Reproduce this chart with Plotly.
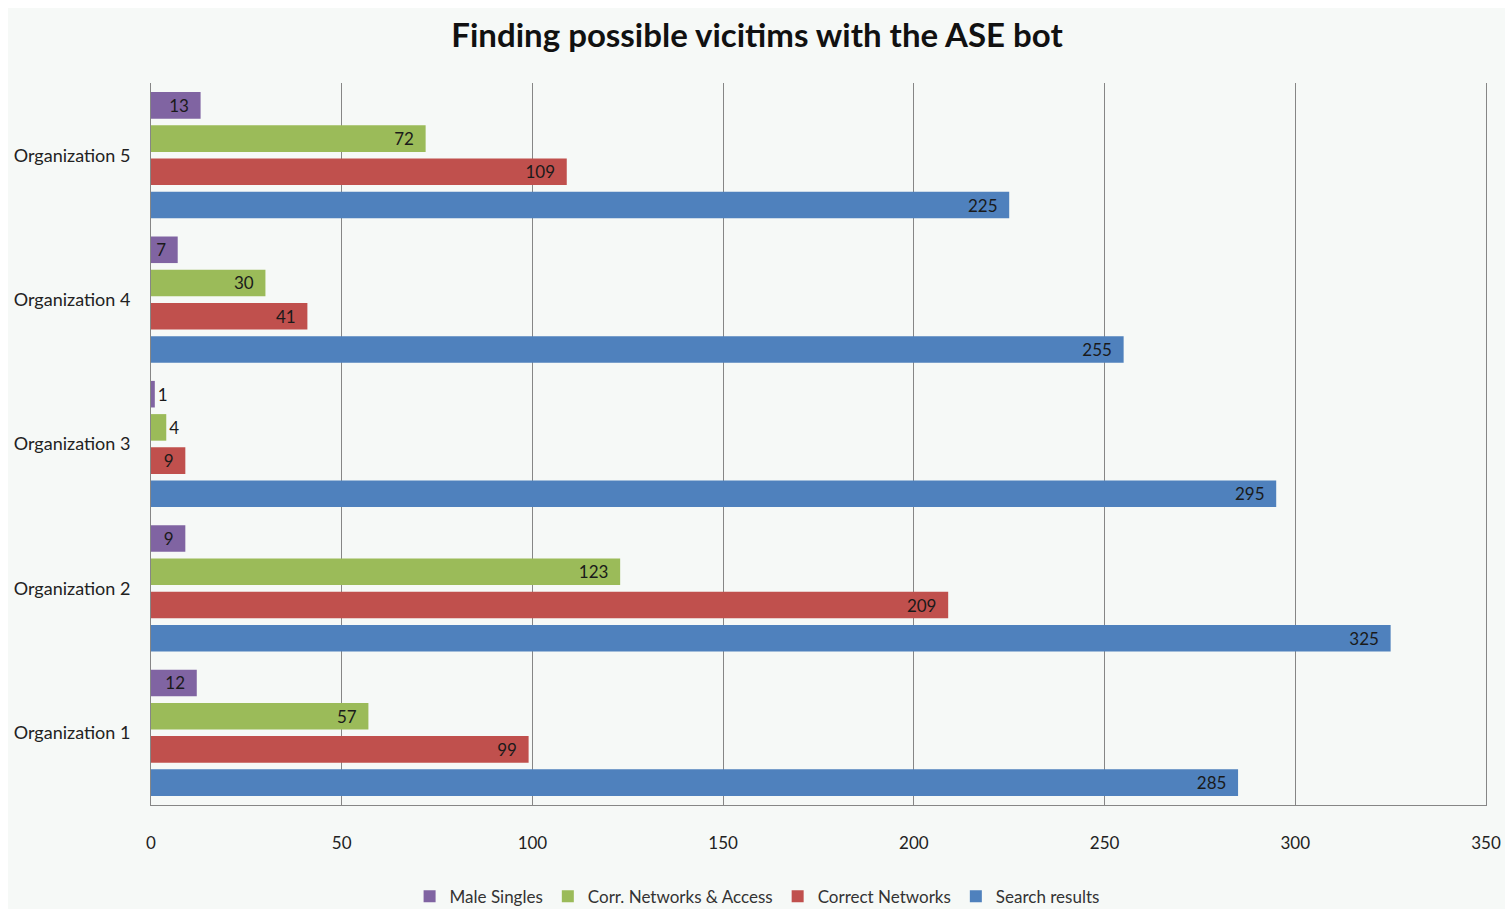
import plotly.graph_objects as go

categories = ["Organization 1", "Organization 2", "Organization 3", "Organization 4", "Organization 5"]
search_results = [285, 325, 295, 255, 225]
correct_networks = [99, 209, 9, 41, 109]
corr_networks_access = [57, 123, 4, 30, 72]
male_singles = [12, 9, 1, 7, 13]
x_ticks = [0, 50, 100, 150, 200, 250, 300, 350]

series = [
    ("Search results", search_results, "#4F81BD"),
    ("Correct Networks", correct_networks, "#C0504D"),
    ("Corr. Networks & Access", corr_networks_access, "#9BBB59"),
    ("Male Singles", male_singles, "#8064A2"),
]

FONT = "Lato"
PAD = "\u00a0\u00a0"
fig = go.Figure()
for name, vals, col in series:
    positions = ["inside" if v >= 5 else "outside" for v in vals]
    texts = [f"{v}{PAD}" if v >= 5 else f"{v}" for v in vals]
    fig.add_trace(go.Bar(
        y=categories, x=vals, name=name, orientation="h",
        marker=dict(color=col, line=dict(width=0)),
        text=texts, textposition=positions, insidetextanchor="end",
        textangle=0,
        textfont=dict(family=FONT, size=17, color="#1a1a1a"),
        insidetextfont=dict(family=FONT, size=17, color="#1a1a1a"),
        outsidetextfont=dict(family=FONT, size=17, color="#1a1a1a"),
        constraintext="none", cliponaxis=False,
    ))

fig.update_layout(
    width=1505, height=909,
    margin=dict(l=151, r=19, t=83, b=104, autoexpand=False),
    paper_bgcolor="white",
    plot_bgcolor="rgba(0,0,0,0)",
    barmode="group", bargap=0.08, bargroupgap=0.2,
    font=dict(family=FONT, size=17, color="#222222"),
    title=dict(text="<b>Finding possible vicitims with the ASE bot</b>",
               x=0.503, xanchor="center", y=1 - 35 / 909, yanchor="middle",
               yref="container",
               font=dict(family=FONT, size=33, color="#111111")),
    legend=dict(orientation="h", traceorder="reversed",
                x=0.454, xanchor="center", y=-0.127, yanchor="middle",
                font=dict(family=FONT, size=17, color="#333333"),
                bgcolor="rgba(0,0,0,0)", itemwidth=30),
    xaxis=dict(range=[0, 350], tickvals=x_ticks, showgrid=True,
               gridcolor="#868686", gridwidth=1, zeroline=False,
               showline=True, linecolor="#868686", linewidth=1,
               ticks="", ticklabelstandoff=23, automargin=False,
               tickfont=dict(family=FONT, size=17, color="#222222")),
    yaxis=dict(showgrid=False, zeroline=False, showline=True, mirror=True,
               linecolor="#868686", linewidth=1, ticks="",
               ticklabelstandoff=16, automargin=False,
               tickfont=dict(family=FONT, size=18, color="#222222")),
    shapes=[dict(type="rect", xref="paper", yref="paper",
                 x0=(8 - 151) / 1335, x1=(1505 - 151) / 1335,
                 y0=(805 - 909) / 722, y1=(805 - 8) / 722,
                 fillcolor="#f6f9f7", line=dict(width=0), layer="below")],
)

fig.write_html("out.html")
